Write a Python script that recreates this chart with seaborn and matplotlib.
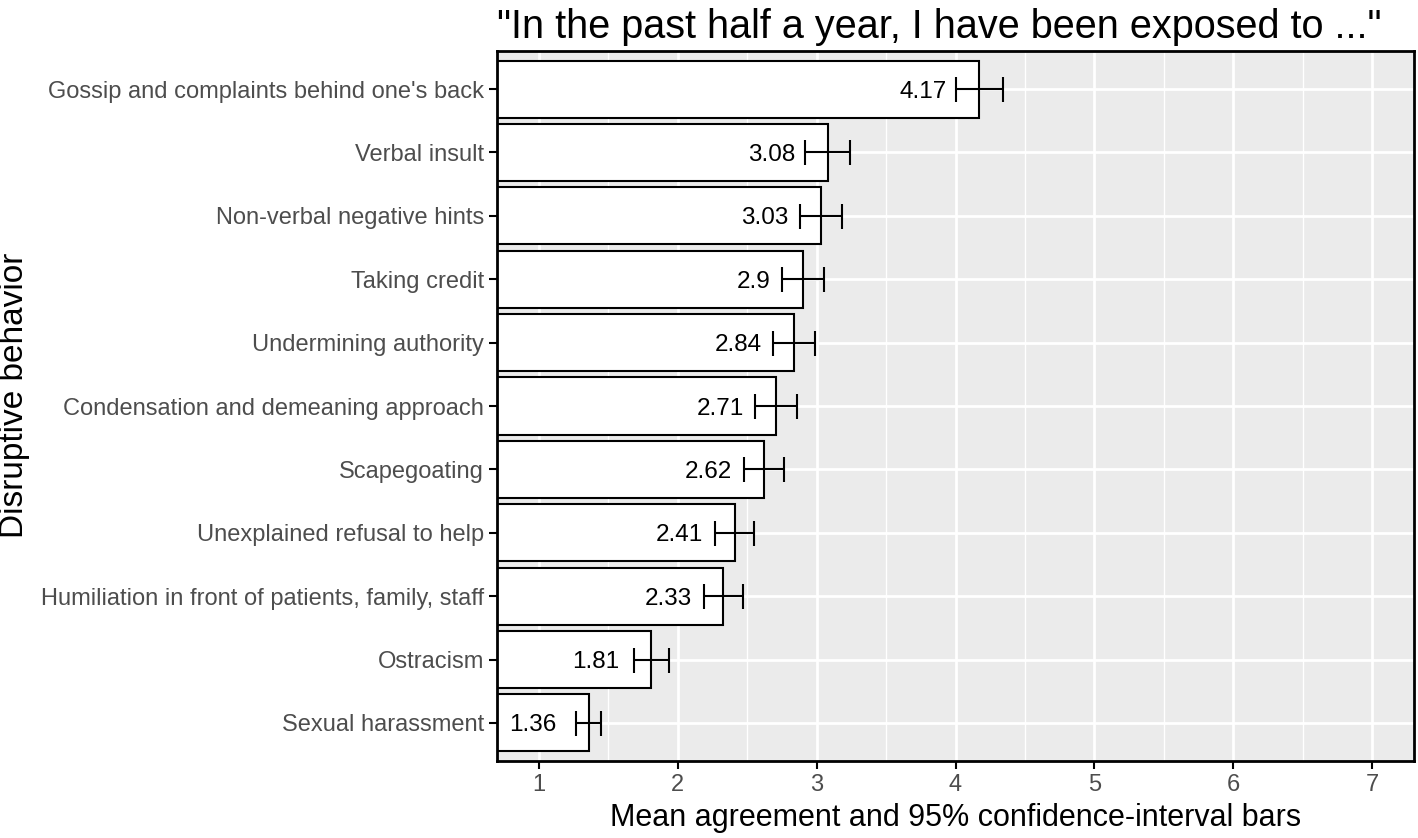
import seaborn as sns
import matplotlib.pyplot as plt
from matplotlib.ticker import MultipleLocator

plt.rcParams['font.family'] = ['Liberation Sans', 'DejaVu Sans']

# survey items, top to bottom
behaviors = ["Gossip and complaints behind one's back", "Verbal insult",
             "Non-verbal negative hints", "Taking credit", "Undermining authority",
             "Condensation and demeaning approach", "Scapegoating",
             "Unexplained refusal to help", "Humiliation in front of patients, family, staff",
             "Ostracism", "Sexual harassment"]
means = [4.17, 3.08, 3.03, 2.9, 2.84, 2.71, 2.62, 2.41, 2.33, 1.81, 1.36]
ci_half = [0.17, 0.16, 0.15, 0.15, 0.15, 0.15, 0.145, 0.14, 0.14, 0.125, 0.09]
labels = ["4.17", "3.08", "3.03", "2.9", "2.84", "2.71", "2.62", "2.41", "2.33", "1.81", "1.36"]

fig = plt.figure(figsize=(14.18, 8.38), dpi=100)
ax = fig.add_axes([497/1418, 1-761/838, (1414-497)/1418, (761-51)/838])
ax.set_facecolor('#EBEBEB')

sns.barplot(x=means, y=behaviors, orient='h', color='white', saturation=1,
            edgecolor='black', linewidth=1.5, width=0.9, ax=ax)
ax.errorbar(means, range(len(means)), xerr=ci_half, fmt='none', ecolor='black',
            elinewidth=1.5, capsize=9, capthick=1.5, zorder=4)
for i, (m, t) in enumerate(zip(means, labels)):
    ax.text(m - 0.23, i, t, ha='right', va='center_baseline', fontsize=17.5,
            color='black', zorder=5)

ax.set_xlim(0.7, 7.3)
ax.set_ylim(len(means) - 0.4, -0.6)
ax.xaxis.set_major_locator(MultipleLocator(1))
ax.xaxis.set_minor_locator(MultipleLocator(0.5))
ax.set_axisbelow(True)
ax.grid(which='major', color='white', linewidth=2)
ax.grid(which='minor', axis='x', color='white', linewidth=1)
ax.tick_params(which='major', length=6, width=1.5, color='black',
               labelsize=17, labelcolor='#4D4D4D')
ax.tick_params(which='minor', length=0)
for s in ax.spines.values():
    s.set_color('black')
    s.set_linewidth(2)

ax.set_xlabel("Mean agreement and 95% confidence-interval bars", fontsize=22,
              color='black', labelpad=5)
ax.set_ylabel("Disruptive behavior", fontsize=24, color='black')
ax.yaxis.set_label_coords(-0.509, 0.515)
ax.set_title('"In the past half a year, I have been exposed to ..."', fontsize=28.5,
             loc='left', pad=9, color='black')

fig.savefig('out.png', dpi=100)
